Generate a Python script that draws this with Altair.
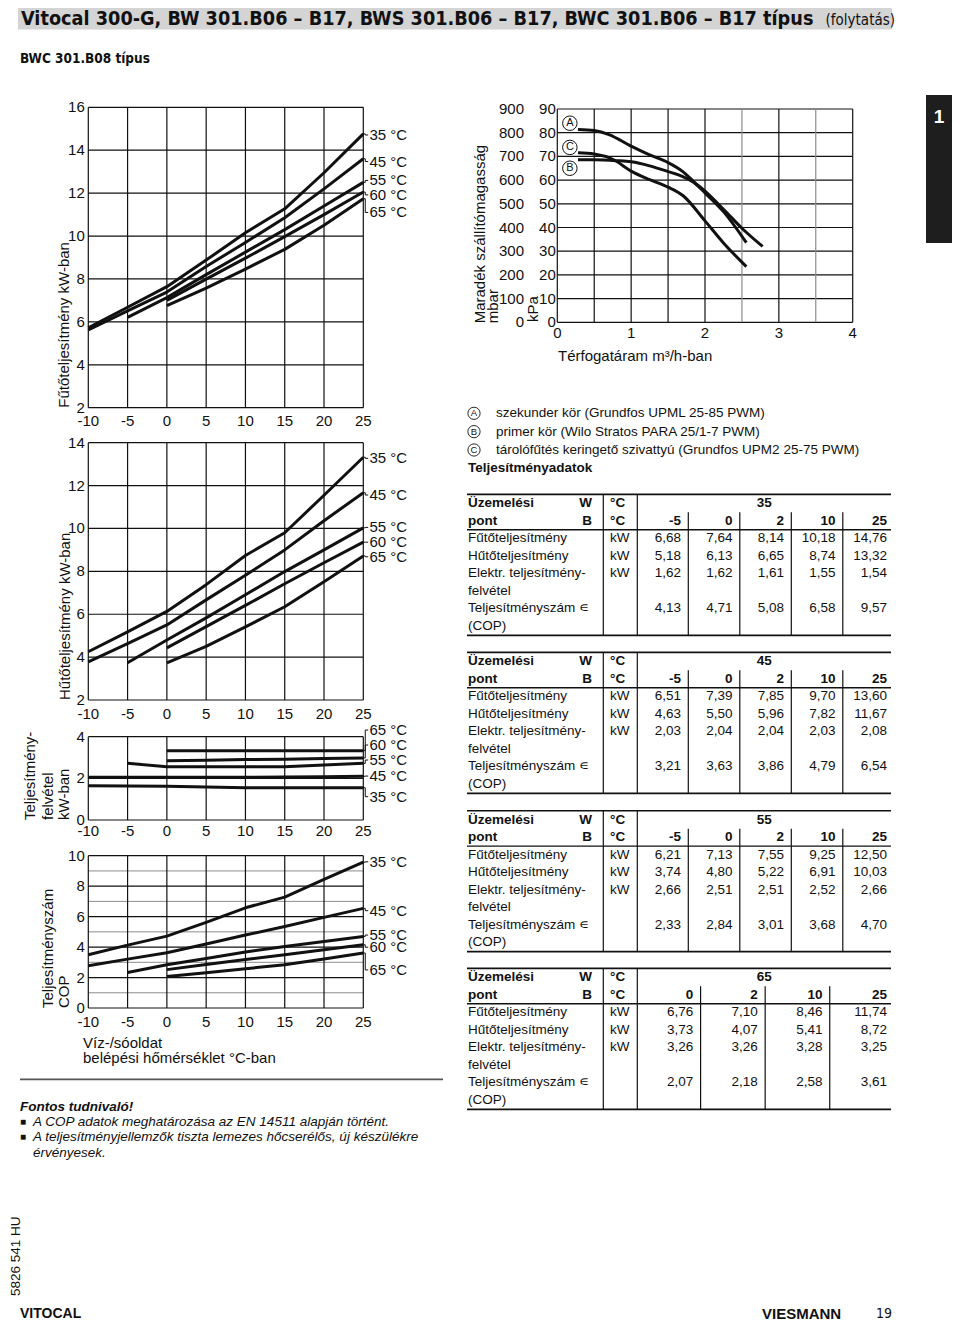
import altair as alt
import pandas as pd

# ------------------------------------------------------------------ data
B_TEMPS = [-10, -5, 0, 5, 10, 15, 20, 25]
X_TICKS = [-10, -5, 0, 5, 10, 15, 20, 25]
X_TICK_TEXT = ["-10", "-5", "0", "5", "10", "15", "20", "25"]
SERIES = ["35 °C", "45 °C", "55 °C", "60 °C", "65 °C"]

HEAT = {
    "35 °C": [5.72, 6.68, 7.64, 8.88, 10.15, 11.27, 12.95, 14.76],
    "45 °C": [5.62, 6.51, 7.39, 8.58, 9.70, 10.85, 12.20, 13.60],
    "55 °C": [None, 6.21, 7.13, 8.20, 9.25, 10.30, 11.40, 12.50],
    "60 °C": [None, None, 7.00, 7.99, 8.97, 9.97, 11.00, 12.05],
    "65 °C": [None, None, 6.76, 7.57, 8.46, 9.38, 10.50, 11.74],
}
HEAT_LABEL_AT = [14.71, 13.47, 12.59, 11.92, 11.10]

COOL = {
    "35 °C": [4.25, 5.18, 6.13, 7.38, 8.74, 9.80, 11.55, 13.32],
    "45 °C": [3.78, 4.63, 5.50, 6.67, 7.82, 9.00, 10.36, 11.67],
    "55 °C": [None, 3.74, 4.80, 5.83, 6.91, 7.99, 9.00, 10.03],
    "60 °C": [None, None, 4.43, 5.42, 6.41, 7.42, 8.40, 9.36],
    "65 °C": [None, None, 3.73, 4.50, 5.41, 6.35, 7.52, 8.72],
}
COOL_LABEL_AT = [13.27, 11.56, 10.05, 9.36, 8.68]

POWER = {
    "35 °C": [1.64, 1.63, 1.62, 1.58, 1.55, 1.55, 1.55, 1.55],
    "45 °C": [2.05, 2.05, 2.05, 2.05, 2.05, 2.06, 2.08, 2.10],
    "55 °C": [None, 2.72, 2.56, 2.56, 2.56, 2.56, 2.64, 2.72],
    "60 °C": [None, None, 2.85, 2.87, 2.90, 2.92, 2.95, 2.98],
    "65 °C": [None, None, 3.33, 3.33, 3.33, 3.33, 3.33, 3.33],
}
POWER_LABEL_AT = [1.12, 2.11, 2.88, 3.60, 4.32]

COP = {
    "35 °C": [3.50, 4.13, 4.72, 5.62, 6.58, 7.28, 8.45, 9.57],
    "45 °C": [2.77, 3.21, 3.63, 4.20, 4.79, 5.35, 5.95, 6.54],
    "55 °C": [None, 2.33, 2.84, 3.25, 3.68, 4.04, 4.37, 4.70],
    "60 °C": [None, None, 2.52, 2.85, 3.18, 3.50, 3.82, 4.15],
    "65 °C": [None, None, 2.07, 2.32, 2.58, 2.84, 3.22, 3.61],
}
COP_LABEL_AT = [9.60, 6.39, 4.79, 3.99, 2.50]

# pump curves (flow m3/h, residual head kPa)
FLOW_A = [0.28, 0.5, 0.7, 1.0, 1.25, 1.5, 1.7, 1.85, 2.0, 2.25, 2.5, 2.78]
HEAD_A = [81.4, 80.9, 79.2, 74.3, 70.6, 67.4, 63.6, 59.3, 55.3, 47.7, 39.7, 32.0]
FLOW_B = [0.28, 0.5, 0.8, 1.0, 1.25, 1.5, 1.7, 1.85, 2.0, 2.25, 2.56]
HEAD_B = [68.6, 68.6, 68.2, 67.7, 66.0, 63.6, 61.5, 59.0, 54.6, 46.7, 33.6]
FLOW_C = [0.28, 0.5, 0.75, 1.0, 1.25, 1.5, 1.7, 2.0, 2.25, 2.56]
HEAD_C = [71.5, 71.0, 68.8, 63.8, 60.2, 57.0, 53.5, 42.8, 33.5, 23.5]
PUMP_X_TICKS = [0, 1, 2, 3, 4]
PUMP_KPA_TICKS = [0, 10, 20, 30, 40, 50, 60, 70, 80, 90]
PUMP_MBAR_TICKS = [0, 100, 200, 300, 400, 500, 600, 700, 800, 900]

# performance tables
TAB_W = [35, 45, 55, 65]
TAB_B = [["-5", "0", "2", "10", "25"]] * 3 + [["0", "2", "10", "25"]]
TAB_HEAT = [["6,68", "7,64", "8,14", "10,18", "14,76"], ["6,51", "7,39", "7,85", "9,70", "13,60"],
            ["6,21", "7,13", "7,55", "9,25", "12,50"], ["6,76", "7,10", "8,46", "11,74"]]
TAB_COOL = [["5,18", "6,13", "6,65", "8,74", "13,32"], ["4,63", "5,50", "5,96", "7,82", "11,67"],
            ["3,74", "4,80", "5,22", "6,91", "10,03"], ["3,73", "4,07", "5,41", "8,72"]]
TAB_POWER = [["1,62", "1,62", "1,61", "1,55", "1,54"], ["2,03", "2,04", "2,04", "2,03", "2,08"],
             ["2,66", "2,51", "2,51", "2,52", "2,66"], ["3,26", "3,26", "3,28", "3,25"]]
TAB_COP = [["4,13", "4,71", "5,08", "6,58", "9,57"], ["3,21", "3,63", "3,86", "4,79", "6,54"],
           ["2,33", "2,84", "3,01", "3,68", "4,70"], ["2,07", "2,18", "2,58", "3,61"]]
TAB_ROW_LABELS = ["Üzemelési", "pont", "Fűtőteljesítmény", "Hűtőteljesítmény",
                  "Elektr. teljesítmény-", "felvétel", "Teljesítményszám ∊", "(COP)"]

# ------------------------------------------------------------------ layout helpers
OX, OY = 8, 8
FONT = "Liberation Sans, Arial, Helvetica, sans-serif"
NARROW = "Liberation Sans Narrow, Arial Narrow, DejaVu Sans Condensed, Liberation Sans, sans-serif"
INK = "#111111"


def px(x):
    return x - OX


def py(y):
    return y - OY


def txt(t, x, y, size=15, weight="normal", style="normal", align="left",
        baseline="middle", angle=0, font=FONT, color=INK):
    kw = dict(font=font, fontSize=size, fontWeight=weight, fontStyle=style,
              align=align, baseline=baseline, color=color)
    if angle:
        kw["angle"] = angle
    return alt.Chart(pd.DataFrame({"t": [t]})).mark_text(**kw).encode(
        x=alt.value(px(x)), y=alt.value(py(y)), text="t:N")


def box(x1, x2, y1, y2, color):
    return alt.Chart(pd.DataFrame({"a": [0]})).mark_rect(color=color).encode(
        x=alt.value(px(x1)), x2=alt.value(px(x2)), y=alt.value(py(y1)), y2=alt.value(py(y2)))


def left_panel(values, labels_at, ydom, ytop, ybot, ymajor, yminor, xlab_dy):
    xs = alt.Scale(domain=[-10, 25], range=[px(88.3), px(363.3)], nice=False, zero=False)
    ys = alt.Scale(domain=ydom, range=[py(ybot), py(ytop)], nice=False, zero=False)

    def X(f):
        return alt.X(f, type="quantitative", scale=xs, axis=None)

    def Y(f):
        return alt.Y(f, type="quantitative", scale=ys, axis=None)

    def XD(d):
        return alt.XDatum(d, type="quantitative", scale=xs, axis=None)

    def YD(d):
        return alt.YDatum(d, type="quantitative", scale=ys, axis=None)

    layers = []
    if yminor:
        layers.append(alt.Chart(pd.DataFrame({"v": yminor})).mark_rule(
            color="#8c8c8c", strokeWidth=1).encode(y=Y("v"), x=XD(-10), x2=alt.X2Datum(25)))
    layers.append(alt.Chart(pd.DataFrame({"v": ymajor})).mark_rule(
        color=INK, strokeWidth=1.2).encode(y=Y("v"), x=XD(-10), x2=alt.X2Datum(25)))
    layers.append(alt.Chart(pd.DataFrame({"b": X_TICKS})).mark_rule(
        color=INK, strokeWidth=1.2).encode(x=X("b"), y=YD(ydom[0]), y2=alt.Y2Datum(ydom[1])))

    rows = [{"b": b, "v": v, "s": s} for s in SERIES
            for b, v in zip(B_TEMPS, values[s]) if v is not None]
    layers.append(alt.Chart(pd.DataFrame(rows)).mark_line(
        color=INK, strokeWidth=3, strokeJoin="round").encode(x=X("b"), y=Y("v"), detail="s:N"))

    lead = []
    for s, lab in zip(SERIES, labels_at):
        e = values[s][-1]
        for o, (bx, vy) in enumerate([(25, e), (25.25, e), (25.25, lab), (25.62, lab)]):
            lead.append({"s": s, "o": o, "b": bx, "v": vy})
    layers.append(alt.Chart(pd.DataFrame(lead)).mark_line(color=INK, strokeWidth=1).encode(
        x=X("b"), y=Y("v"), detail="s:N", order="o:Q"))

    layers.append(alt.Chart(pd.DataFrame({"b": X_TICKS, "t": X_TICK_TEXT})).mark_text(
        font=FONT, fontSize=15, dy=xlab_dy, baseline="middle", color=INK).encode(
        x=X("b"), y=YD(ydom[0]), text="t:N"))
    ylab = [v for v in ymajor]
    layers.append(alt.Chart(pd.DataFrame({"v": ylab, "t": [str(v) for v in ylab]})).mark_text(
        font=FONT, fontSize=15, dx=-3.5, align="right", baseline="middle", color=INK).encode(
        x=XD(-10), y=Y("v"), text="t:N"))
    layers.append(alt.Chart(pd.DataFrame({"s": SERIES, "l": labels_at})).mark_text(
        font=FONT, fontSize=15, dx=6.2, align="left", baseline="middle", color=INK).encode(
        x=XD(25), y=Y("l"), text="s:N"))
    return alt.layer(*layers)


def pump_panel():
    xs = alt.Scale(domain=[0, 4], range=[px(557.3), px(852.7)], nice=False, zero=False)
    ys = alt.Scale(domain=[0, 90], range=[py(322.3), py(109)], nice=False, zero=False)

    def X(f):
        return alt.X(f, type="quantitative", scale=xs, axis=None)

    def Y(f):
        return alt.Y(f, type="quantitative", scale=ys, axis=None)

    def XD(d):
        return alt.XDatum(d, type="quantitative", scale=xs, axis=None)

    def YD(d):
        return alt.YDatum(d, type="quantitative", scale=ys, axis=None)

    xgrid = [i * 0.5 for i in range(9)]
    shade = ["#111111" if g not in (2.5, 3.5) else "#8c8c8c" for g in xgrid]
    layers = [
        alt.Chart(pd.DataFrame({"f": PUMP_KPA_TICKS})).mark_rule(color=INK, strokeWidth=1.2).encode(
            y=Y("f"), x=XD(0), x2=alt.X2Datum(4)),
        alt.Chart(pd.DataFrame({"f": xgrid, "c": shade})).mark_rule(strokeWidth=1.2).encode(
            x=X("f"), y=YD(0), y2=alt.Y2Datum(90), color=alt.Color("c:N", scale=None)),
    ]
    rows = ([{"f": f, "h": h, "p": "A"} for f, h in zip(FLOW_A, HEAD_A)] +
            [{"f": f, "h": h, "p": "B"} for f, h in zip(FLOW_B, HEAD_B)] +
            [{"f": f, "h": h, "p": "C"} for f, h in zip(FLOW_C, HEAD_C)])
    layers.append(alt.Chart(pd.DataFrame(rows)).mark_line(
        color=INK, strokeWidth=3, interpolate="monotone").encode(x=X("f"), y=Y("h"), detail="p:N"))
    marks = pd.DataFrame({"p": ["A", "C", "B"], "f": [0.17, 0.17, 0.17], "h": [84.0, 73.8, 65.0]})
    layers.append(alt.Chart(marks).mark_point(shape="circle", size=210, filled=False,
                                              color=INK, strokeWidth=1, opacity=1).encode(
        x=X("f"), y=Y("h")))
    layers.append(alt.Chart(marks).mark_text(font=FONT, fontSize=11, color=INK, baseline="middle").encode(
        x=X("f"), y=Y("h"), text="p:N"))
    layers.append(alt.Chart(pd.DataFrame({"f": PUMP_X_TICKS})).mark_text(
        font=FONT, fontSize=15, dy=11, baseline="middle", color=INK).encode(
        x=X("f"), y=YD(0), text=alt.Text("f:Q", format="d")))
    layers.append(alt.Chart(pd.DataFrame({"k": PUMP_KPA_TICKS})).mark_text(
        font=FONT, fontSize=15, dx=-1.5, align="right", baseline="middle", color=INK).encode(
        x=XD(0), y=Y("k"), text=alt.Text("k:Q", format="d")))
    layers.append(alt.Chart(pd.DataFrame({"m": PUMP_MBAR_TICKS})).transform_calculate(
        k="datum.m / 10").mark_text(
        font=FONT, fontSize=15, align="right", baseline="middle", color=INK).encode(
        x=alt.value(px(524)), y=Y("k"), text=alt.Text("m:Q", format="d")))
    return alt.layer(*layers)


def table_panel(i, top, first_right):
    btemps = TAB_B[i]
    n = len(btemps)
    step = (887 - first_right) / (n - 1)
    xs = alt.Scale(domain=[0, n - 1], range=[px(first_right), px(887)], nice=False, zero=False)
    ys = alt.Scale(domain=[0, 7], range=[py(top + 9), py(top + 9 + 7 * 17.53)], nice=False, zero=False)

    def X(f):
        return alt.X(f, type="quantitative", scale=xs, axis=None)

    def Y(f):
        return alt.Y(f, type="quantitative", scale=ys, axis=None)

    def YD(d):
        return alt.YDatum(d, type="quantitative", scale=ys, axis=None)

    S = 13.5
    layers = []
    layers.append(alt.Chart(pd.DataFrame({"r": [-0.51, 1.51, 7.53], "w": [1.7, 1.4, 1.7]})).mark_rule(
        color=INK).encode(y=Y("r"), x=alt.value(px(467)), x2=alt.value(px(891)),
                          strokeWidth=alt.StrokeWidth("w:Q", scale=None)))
    for vx in (603.3, 637.3):
        layers.append(alt.Chart(pd.DataFrame({"a": [0]})).mark_rule(color=INK, strokeWidth=1.2).encode(
            x=alt.value(px(vx)), y=YD(-0.51), y2=alt.Y2Datum(7.53)))
    seps = [c + 7.3 / step for c in range(n - 1)]
    layers.append(alt.Chart(pd.DataFrame({"c": seps})).mark_rule(color=INK, strokeWidth=1.2).encode(
        x=X("c"), y=YD(0.51), y2=alt.Y2Datum(7.53)))

    lab = pd.DataFrame({"r": list(range(8)), "t": TAB_ROW_LABELS,
                        "bold": [True, True, False, False, False, False, False, False]})
    layers.append(alt.Chart(lab[lab.bold]).mark_text(font=FONT, fontSize=S, fontWeight="bold",
                                                     align="left", baseline="middle", color=INK).encode(
        x=alt.value(px(468)), y=Y("r"), text="t:N"))
    layers.append(alt.Chart(lab[~lab.bold]).mark_text(font=FONT, fontSize=S, align="left",
                                                      baseline="middle", color=INK).encode(
        x=alt.value(px(468)), y=Y("r"), text="t:N"))
    layers.append(alt.Chart(pd.DataFrame({"r": [0, 1], "t": ["W", "B"]})).mark_text(
        font=FONT, fontSize=S, fontWeight="bold", align="right", baseline="middle", color=INK).encode(
        x=alt.value(px(592)), y=Y("r"), text="t:N"))
    layers.append(alt.Chart(pd.DataFrame({"r": [0, 1], "t": ["°C", "°C"]})).mark_text(
        font=FONT, fontSize=S, fontWeight="bold", align="left", baseline="middle", color=INK).encode(
        x=alt.value(px(610)), y=Y("r"), text="t:N"))
    layers.append(alt.Chart(pd.DataFrame({"r": [2, 3, 4], "t": ["kW", "kW", "kW"]})).mark_text(
        font=FONT, fontSize=S, align="left", baseline="middle", color=INK).encode(
        x=alt.value(px(610)), y=Y("r"), text="t:N"))
    mid = ((637.3 - first_right) / step + (891 - first_right) / step) / 2
    layers.append(alt.Chart(pd.DataFrame({"c": [mid], "r": [0], "t": [str(TAB_W[i])]})).mark_text(
        font=FONT, fontSize=S, fontWeight="bold", align="center", baseline="middle", color=INK).encode(
        x=X("c"), y=Y("r"), text="t:N"))
    layers.append(alt.Chart(pd.DataFrame({"c": list(range(n)), "r": [1] * n, "t": btemps})).mark_text(
        font=FONT, fontSize=S, fontWeight="bold", align="right", baseline="middle", color=INK).encode(
        x=X("c"), y=Y("r"), text="t:N"))
    cells = []
    for r, src in zip([2, 3, 4, 6], [TAB_HEAT, TAB_COOL, TAB_POWER, TAB_COP]):
        for c, t in enumerate(src[i]):
            cells.append({"c": c, "r": r, "t": t})
    layers.append(alt.Chart(pd.DataFrame(cells)).mark_text(
        font=FONT, fontSize=S, align="right", baseline="middle", color=INK).encode(
        x=X("c"), y=Y("r"), text="t:N"))
    return alt.layer(*layers)


def legend_panel():
    ys = alt.Scale(domain=[0, 2], range=[py(413.3), py(450)], nice=False, zero=False)
    df = pd.DataFrame({"r": [0, 1, 2], "k": ["A", "B", "C"],
                       "t": ["szekunder kör (Grundfos UPML 25-85 PWM)",
                             "primer kör (Wilo Stratos PARA 25/1-7 PWM)",
                             "tárolófűtés keringető szivattyú (Grundfos UPM2 25-75 PWM)"]})
    Y = alt.Y("r:Q", scale=ys, axis=None)
    return alt.layer(
        alt.Chart(df).mark_point(shape="circle", size=150, filled=False, color=INK,
                                 strokeWidth=0.9, opacity=1).encode(x=alt.value(px(474)), y=Y),
        alt.Chart(df).mark_text(font=FONT, fontSize=9.5, color=INK, baseline="middle").encode(
            x=alt.value(px(474)), y=Y, text="k:N"),
        alt.Chart(df).mark_text(font=FONT, fontSize=13.5, color=INK, align="left", baseline="middle").encode(
            x=alt.value(px(496)), y=Y, text="t:N"),
    )


# ------------------------------------------------------------------ assemble
layers = []
# header
layers.append(box(18, 892, 8, 29.5, "#d4d4d4"))
layers.append(txt("Vitocal 300-G, BW 301.B06 – B17, BWS 301.B06 – B17, BWC 301.B06 – B17 típus",
                  21, 24.5, size=19.7, weight="bold", baseline="alphabetic", font=NARROW))
layers.append(txt("(folytatás)", 895, 24.5, size=15, align="right", baseline="alphabetic", font=NARROW))
layers.append(txt("BWC 301.B08 típus", 20, 63, size=13.5, weight="bold", baseline="alphabetic", font=NARROW))

# left charts
layers.append(left_panel(HEAT, HEAT_LABEL_AT, [2, 16], 107.3, 407.7,
                         [2, 4, 6, 8, 10, 12, 14, 16], [], 13.5))
layers.append(left_panel(COOL, COOL_LABEL_AT, [2, 14], 442.7, 700,
                         [2, 4, 6, 8, 10, 12, 14], [], 13.5))
layers.append(left_panel(POWER, POWER_LABEL_AT, [0, 4], 736.7, 820,
                         [0, 2, 4], [], 10.5))
layers.append(left_panel(COP, COP_LABEL_AT, [0, 10], 855.7, 1008,
                         [0, 2, 4, 6, 8, 10], [1, 3, 5, 7, 9], 13.5))

layers.append(txt("Fűtőteljesítmény kW-ban", 64, 407.7, angle=270))
layers.append(txt("Hűtőteljesítmény kW-ban", 65, 700, angle=270))
layers.append(txt("Teljesítmény-", 30, 820, angle=270))
layers.append(txt("felvétel", 47.5, 820, angle=270))
layers.append(txt("kW-ban", 63.5, 820, angle=270))
layers.append(txt("Teljesítményszám", 47.5, 1008, angle=270))
layers.append(txt("COP", 63.5, 1008, angle=270))
layers.append(txt("Víz-/sóoldat", 83, 1043.3))
layers.append(txt("belépési hőmérséklet °C-ban", 83, 1058.3))

# divider and notes
layers.append(box(20, 443, 1078.5, 1080.3, "#555555"))
layers.append(txt("Fontos tudnivaló!", 20, 1106.7, size=13.5, weight="bold", style="italic"))
layers.append(txt("■", 20, 1122.3, size=10))
layers.append(txt("A COP adatok meghatározása az EN 14511 alapján történt.", 33, 1122.3, size=13.5, style="italic"))
layers.append(txt("■", 20, 1137.3, size=10))
layers.append(txt("A teljesítményjellemzők tiszta lemezes hőcserélős, új készülékre", 33, 1137.3,
                  size=13.5, style="italic"))
layers.append(txt("érvényesek.", 33, 1153.3, size=13.5, style="italic"))

# pump chart
layers.append(pump_panel())
layers.append(txt("Maradék szállítómagasság", 480, 323.3, angle=270))
layers.append(txt("mbar", 492.5, 323.3, angle=270))
layers.append(txt("kPa", 533, 322, angle=270))
layers.append(txt("Térfogatáram m³/h-ban", 558, 355.7))

# chapter tab
layers.append(box(926, 960, 95, 243, "#1e1e1e"))
layers.append(txt("1", 939, 117, size=19, weight="bold", align="center", color="white"))

# legend + tables
layers.append(legend_panel())
layers.append(txt("Teljesítményadatok", 468, 468.3, size=13.5, weight="bold"))
for i, (top, fr) in enumerate(zip([494.3, 652.3, 810.7, 968.3], [681, 681, 681, 693.3])):
    layers.append(table_panel(i, top, fr))

# footer
layers.append(txt("5826 541 HU", 19.5, 1296, size=13.5, angle=270, baseline="alphabetic"))
layers.append(txt("VITOCAL", 20, 1314, size=14, weight="bold"))
layers.append(txt("VIESMANN", 762, 1314, size=15, weight="bold"))
layers.append(txt("19", 876, 1314, size=14, font=NARROW))

chart = alt.layer(*layers).resolve_scale(x="independent", y="independent").properties(
    width=944, height=1314, padding=0, autosize=alt.AutoSizeParams(type="none"),
    background="white",
).configure_view(stroke=None)

chart.save("out.html", embed_options={"renderer": "svg", "actions": False})
